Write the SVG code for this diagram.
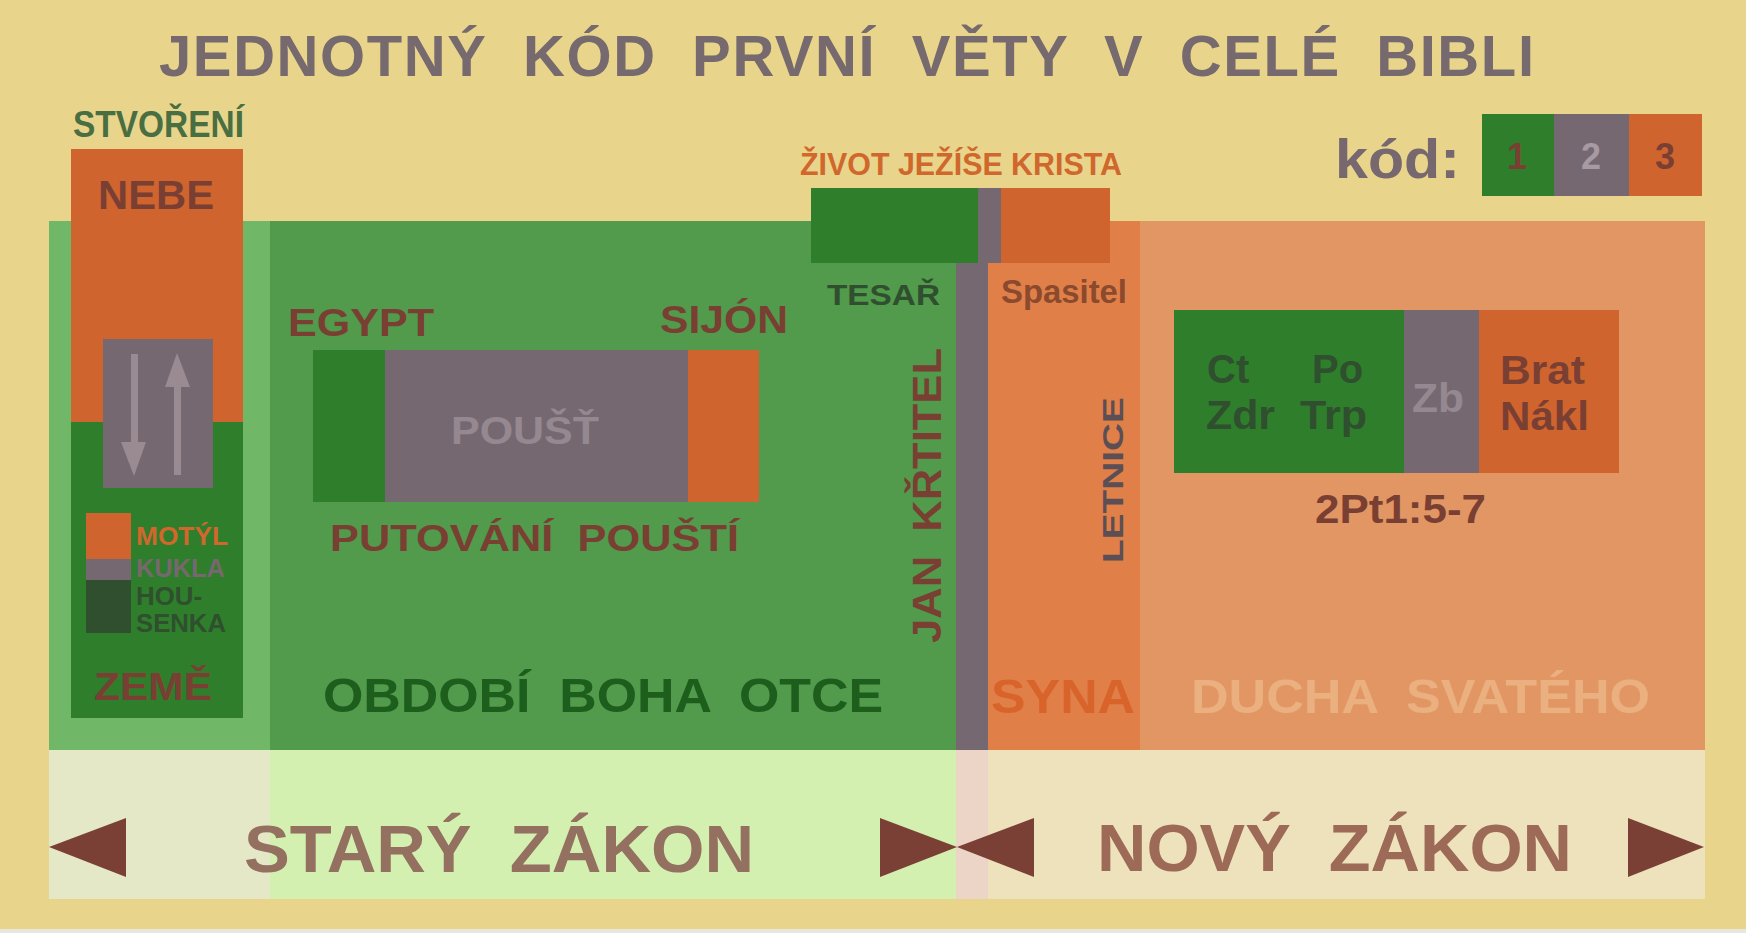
<svg xmlns="http://www.w3.org/2000/svg" width="1746" height="933" viewBox="0 0 1746 933">
<style>
text{font-family:"Liberation Sans",Arial,sans-serif;font-weight:bold;white-space:pre}
.br{fill:#7a3f33}
.dg{fill:#2f4f2f}
.gy{fill:#76686e}
.lm{fill:#9a8c94}
.or{fill:#d0642e}
</style>
<rect x="0" y="0" width="1746" height="933" fill="#e8d58b"/>
<rect x="0" y="929" width="1746" height="4" fill="#e9e6de"/>
<g id="title">
<text x="159" y="76" font-size="58" textLength="1375" lengthAdjust="spacing" fill="#766a6f" xml:space="preserve">JEDNOTNÝ  KÓD  PRVNÍ  VĚTY  V  CELÉ  BIBLI</text>
</g>
<g id="main-band">
<rect x="49" y="221" width="221" height="529" fill="#70b868"/>
<rect x="270" y="221" width="686" height="529" fill="#529a4c"/>
<rect x="956" y="221" width="32" height="529" fill="#766870"/>
<rect x="988" y="221" width="152" height="529" fill="#e08048"/>
<rect x="1140" y="221" width="565" height="529" fill="#e29664"/>
<rect x="49" y="750" width="221" height="149" fill="#e4e8c6"/>
<rect x="270" y="750" width="686" height="149" fill="#d4f0b0"/>
<rect x="956" y="750" width="32" height="149" fill="#ecd4c6"/>
<rect x="988" y="750" width="717" height="149" fill="#ede2bb"/>
</g>
<g id="creation">
<text x="73" y="137" font-size="36" textLength="171" lengthAdjust="spacingAndGlyphs" fill="#486e42">STVOŘENÍ</text>
<rect x="71" y="149" width="172" height="273" fill="#d0642e"/>
<rect x="71" y="422" width="172" height="296" fill="#2e7e2c"/>
<text x="98" y="209" font-size="40" textLength="116" lengthAdjust="spacingAndGlyphs" class="br">NEBE</text>
<rect x="103" y="339" width="110" height="149" fill="#766870"/>
<rect x="131" y="354" width="7" height="90" fill="#9a8a92"/>
<polygon points="121,442 146,442 134,476" fill="#9a8a92"/>
<rect x="174" y="385" width="7" height="90" fill="#9a8a92"/>
<polygon points="165,387 190,387 177,353" fill="#9a8a92"/>
<rect x="86" y="513" width="45" height="46" fill="#d0642e"/>
<rect x="86" y="559" width="45" height="21" fill="#766870"/>
<rect x="86" y="580" width="45" height="53" fill="#2f4f2f"/>
<text x="136" y="545" font-size="25" textLength="92" lengthAdjust="spacingAndGlyphs" fill="#d0672d">MOTÝL</text>
<text x="136" y="577" font-size="25" textLength="89" lengthAdjust="spacingAndGlyphs" class="gy">KUKLA</text>
<text x="136" y="605" font-size="25" textLength="66" lengthAdjust="spacingAndGlyphs" class="dg">HOU-</text>
<text x="136" y="632" font-size="25" textLength="90" lengthAdjust="spacingAndGlyphs" class="dg">SENKA</text>
<text x="94" y="700" font-size="38" textLength="118" lengthAdjust="spacingAndGlyphs" class="br">ZEMĚ</text>
</g>
<g id="desert">
<text x="288" y="336" font-size="38" textLength="146" lengthAdjust="spacingAndGlyphs" class="br">EGYPT</text>
<text x="660" y="333" font-size="38" textLength="128" lengthAdjust="spacingAndGlyphs" class="br">SIJÓN</text>
<rect x="313" y="350" width="72" height="152" fill="#2e7e2c"/>
<rect x="385" y="350" width="303" height="152" fill="#766870"/>
<rect x="688" y="350" width="71" height="152" fill="#d0642e"/>
<text x="451" y="444" font-size="38" textLength="148" lengthAdjust="spacingAndGlyphs" fill="#958891">POUŠŤ</text>
<text x="330" y="551" font-size="36" textLength="409" lengthAdjust="spacingAndGlyphs" class="br" xml:space="preserve">PUTOVÁNÍ  POUŠTÍ</text>
</g>
<g id="father">
<text x="323" y="712" font-size="48" textLength="560" lengthAdjust="spacingAndGlyphs" fill="#1d5e1d" xml:space="preserve">OBDOBÍ  BOHA  OTCE</text>
</g>
<g id="jesus">
<text x="800" y="175" font-size="31" textLength="322" lengthAdjust="spacingAndGlyphs" fill="#d0672d">ŽIVOT JEŽÍŠE KRISTA</text>
<rect x="811" y="188" width="167" height="75" fill="#2e7e2c"/>
<rect x="978" y="188" width="23" height="75" fill="#766870"/>
<rect x="1001" y="188" width="109" height="75" fill="#d0642e"/>
<text x="827" y="305" font-size="30" textLength="113" lengthAdjust="spacingAndGlyphs" class="dg">TESAŘ</text>
<text x="1001" y="303" font-size="34" textLength="126" lengthAdjust="spacingAndGlyphs" fill="#8b4a2e">Spasitel</text>
</g>
<g id="john">
<text transform="translate(941,643) rotate(-90)" x="0" y="0" font-size="40" textLength="295" lengthAdjust="spacingAndGlyphs" class="br" xml:space="preserve">JAN  KŘTITEL</text>
</g>
<g id="son">
<text transform="translate(1123,563) rotate(-90)" x="0" y="0" font-size="30" textLength="166" lengthAdjust="spacingAndGlyphs" fill="#5b4f55">LETNICE</text>
<text x="991" y="713" font-size="48" textLength="144" lengthAdjust="spacingAndGlyphs" fill="#d8642c">SYNA</text>
</g>
<g id="spirit">
<rect x="1174" y="310" width="230" height="163" fill="#2e7e2c"/>
<rect x="1404" y="310" width="75" height="163" fill="#766870"/>
<rect x="1479" y="310" width="140" height="163" fill="#d0642e"/>
<text x="1207" y="383" font-size="40" class="dg">Ct</text>
<text x="1312" y="383" font-size="40" class="dg">Po</text>
<text x="1206" y="429" font-size="40" textLength="69" lengthAdjust="spacingAndGlyphs" class="dg">Zdr</text>
<text x="1300" y="429" font-size="40" textLength="67" lengthAdjust="spacingAndGlyphs" class="dg">Trp</text>
<text x="1412" y="412" font-size="40" textLength="52" lengthAdjust="spacingAndGlyphs" fill="#958891">Zb</text>
<text x="1500" y="384" font-size="40" textLength="85" lengthAdjust="spacingAndGlyphs" class="br">Brat</text>
<text x="1500" y="430" font-size="40" textLength="89" lengthAdjust="spacingAndGlyphs" class="br">Nákl</text>
<text x="1315" y="523" font-size="40" textLength="171" lengthAdjust="spacingAndGlyphs" class="br">2Pt1:5-7</text>
<text x="1191" y="713" font-size="48" textLength="459" lengthAdjust="spacingAndGlyphs" fill="#ebb080" xml:space="preserve">DUCHA  SVATÉHO</text>
</g>
<g id="code">
<text x="1335" y="178" font-size="56" textLength="125" lengthAdjust="spacingAndGlyphs" class="gy">kód:</text>
<rect x="1482" y="114" width="72" height="82" fill="#2e7e2c"/>
<rect x="1554" y="114" width="75" height="82" fill="#766870"/>
<rect x="1629" y="114" width="73" height="82" fill="#d0642e"/>
<text x="1517" y="169" font-size="36" text-anchor="middle" class="br">1</text>
<text x="1591" y="169" font-size="36" text-anchor="middle" fill="#a89aa2">2</text>
<text x="1665" y="169" font-size="36" text-anchor="middle" class="br">3</text>
</g>
<g id="old-testament">
<text x="244" y="872" font-size="66" textLength="510" lengthAdjust="spacingAndGlyphs" fill="#947060" xml:space="preserve">STARÝ  ZÁKON</text>
</g>
<g id="new-testament">
<text x="1097" y="871" font-size="66" textLength="475" lengthAdjust="spacingAndGlyphs" fill="#9c6a56" xml:space="preserve">NOVÝ  ZÁKON</text>
</g>
<g id="connectors" fill="#7a4035">
<polygon points="49,847 126,818 126,877"/>
<polygon points="880,818 880,877 957,847"/>
<polygon points="957,847 1034,818 1034,877"/>
<polygon points="1628,818 1628,877 1704,847"/>
</g>
</svg>
